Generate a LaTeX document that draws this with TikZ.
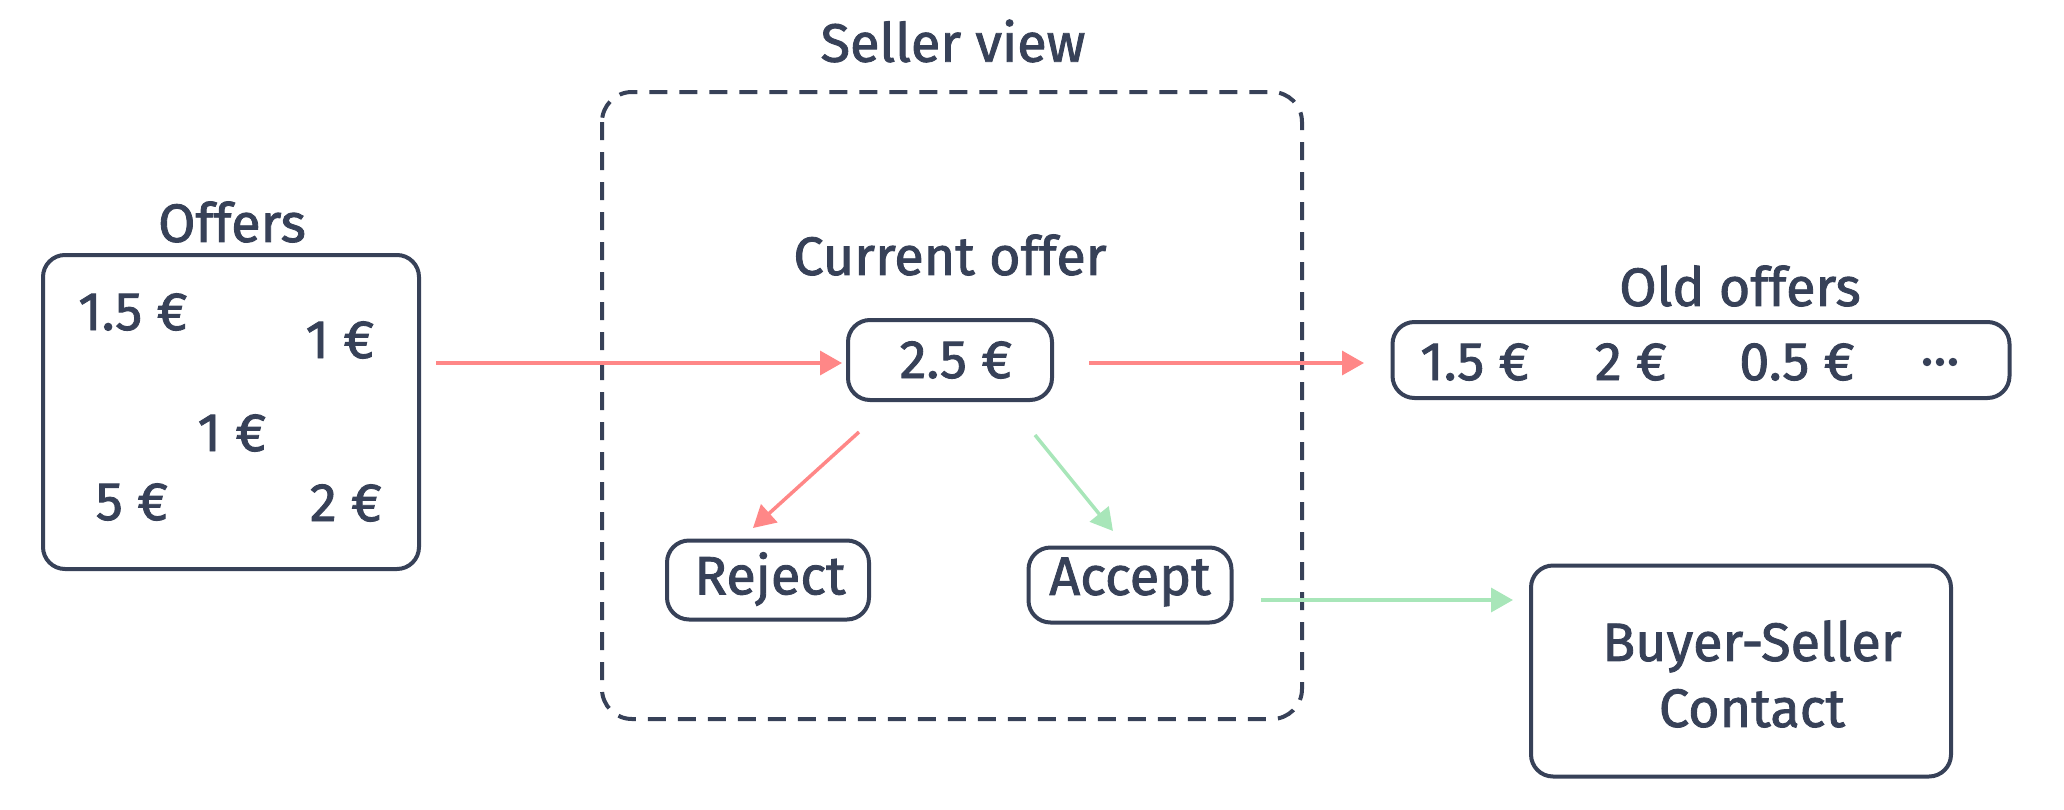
\documentclass[tikz,border=0pt]{standalone}
\usepackage{fontspec}
\setmainfont{Fira Sans}
\newfontfamily\heavyfont{Fira Sans}[FakeBold=1.6]
\usetikzlibrary{arrows.meta}
\definecolor{ink}{RGB}{55,65,88}
\definecolor{redarr}{RGB}{255,135,135}
\definecolor{greenarr}{RGB}{168,230,185}
\tikzset{
  box/.style={draw=ink, line width=4pt, rounded corners=22pt, inner sep=0pt},
  lbl/.style={text=ink, font=\heavyfont\fontsize{54}{66}\selectfont, inner sep=0pt, align=center},
  conn/.style={line width=3.5pt, -{Triangle[length=22pt,width=24pt]}},
  redconn/.style={conn, draw=redarr, fill=redarr},
  greenconn/.style={conn, draw=greenarr, fill=greenarr},
}
\begin{document}
\begin{tikzpicture}[x=1pt,y=-1pt]
\useasboundingbox (0,0) rectangle (2064,809);
% dashed seller view frame
\draw[draw=ink, line width=4pt, rounded corners=30pt, dash pattern=on 18pt off 12pt] (602,92) rectangle (1302,719);
\node[lbl] (sellerlbl) at (953,41) {Seller view};
% offers
\node[box, minimum width=376pt, minimum height=314pt] (offers) at (231,412) {};
\node[lbl] (offerslbl) at (232,222) {Offers};
\node[lbl] (o1) at (133,312) {1.5 €};
\node[lbl] (o2) at (340,340) {1 €};
\node[lbl] (o3) at (232,433) {1 €};
\node[lbl] (o4) at (132,502) {5 €};
\node[lbl] (o5) at (346,503) {2 €};
% current offer
\node[lbl] (curlbl) at (950,255) {Current offer};
\node[box, minimum width=204pt, minimum height=80pt] (cur) at (950,360) {};
\node[lbl] (curval) at (956,360) {2.5 €};
% old offers
\node[lbl] (oldlbl) at (1740,286) {Old offers};
\node[box, minimum width=617pt, minimum height=76pt] (old) at (1701,360) {};
\node[lbl] (v1) at (1475,362) {1.5 €};
\node[lbl] (v2) at (1631,362) {2 €};
\node[lbl] (v3) at (1797,362) {0.5 €};
\node[lbl] (v4) at (1940,362) {...};
% reject / accept
\node[box, minimum width=202pt, minimum height=79pt] (reject) at (768,580) {};
\node[lbl] (rejectlbl) at (770,579) {Reject};
\node[box, minimum width=203pt, minimum height=75pt] (accept) at (1130,585) {};
\node[lbl] (acceptlbl) at (1130,582) {Accept};
% buyer-seller
\node[box, minimum width=420pt, minimum height=211pt] (buyer) at (1741,671) {};
\node[lbl] (buyerlbl) at (1752,674) {Buyer-Seller\\Contact};
% connector end points
\coordinate (a1s) at (436,363);
\coordinate (a1e) at (842,363);
\coordinate (a2s) at (1089,363);
\coordinate (a2e) at (1364,363);
\coordinate (a3s) at (859,432);
\coordinate (a3e) at (753,528);
\coordinate (a4s) at (1035,435);
\coordinate (a4e) at (1113,531);
\coordinate (a5s) at (1261,600);
\coordinate (a5e) at (1513,600);
% connectors
\draw[redconn] (a1s) -- (a1e);
\draw[redconn] (a2s) -- (a2e);
\draw[redconn] (a3s) -- (a3e);
\draw[greenconn] (a4s) -- (a4e);
\draw[greenconn] (a5s) -- (a5e);
\end{tikzpicture}
\end{document}
